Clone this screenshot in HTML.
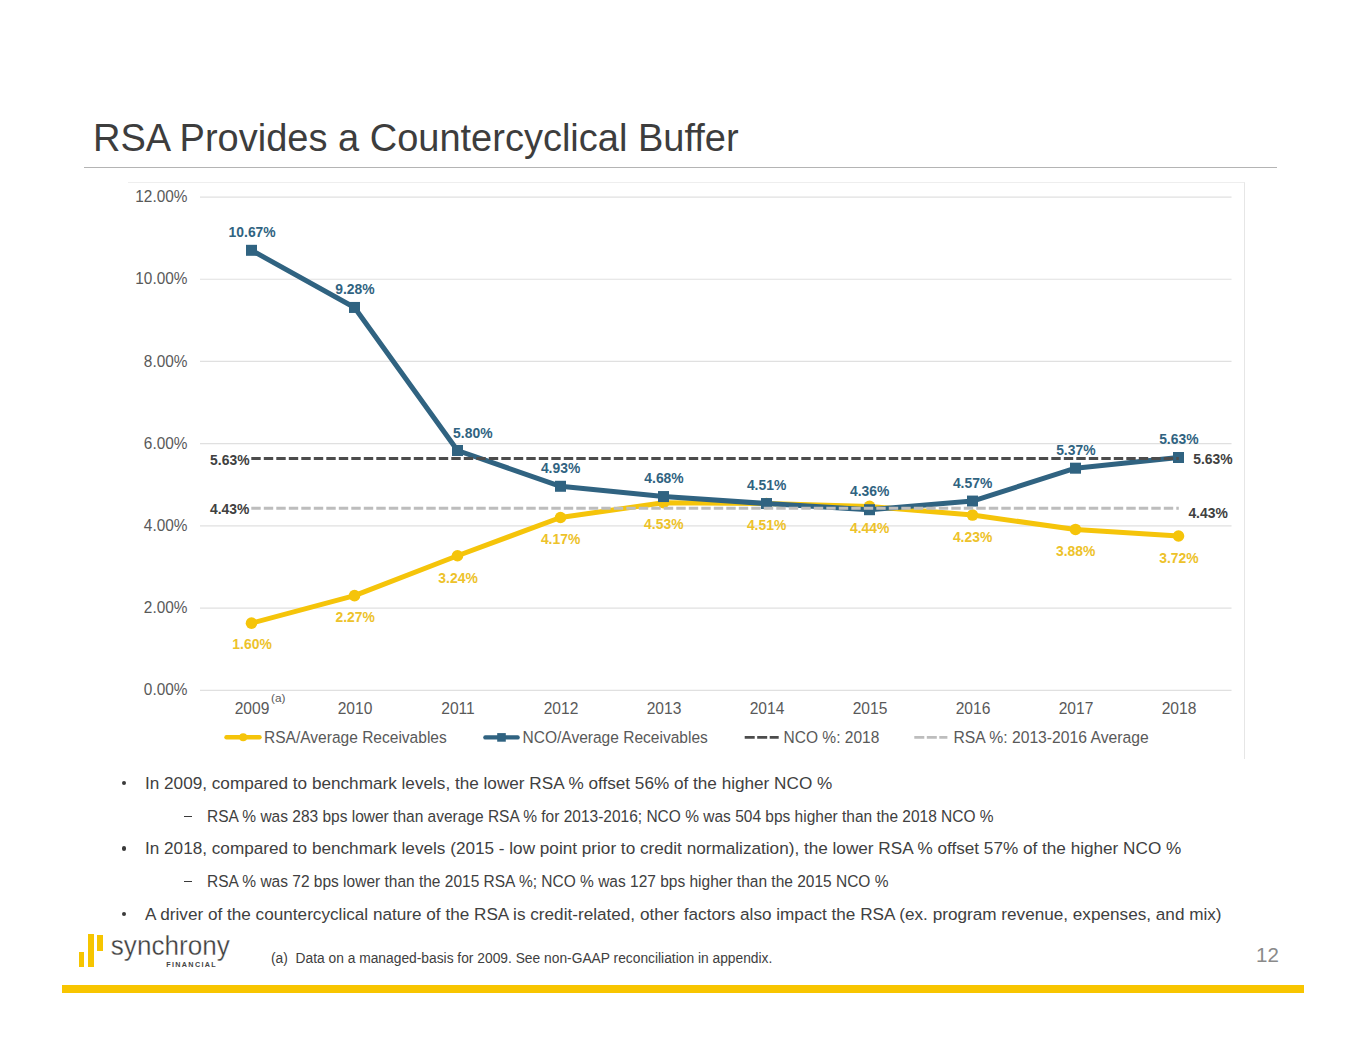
<!DOCTYPE html>
<html><head><meta charset="utf-8">
<style>
html,body{margin:0;padding:0;background:#fff;}
body{width:1365px;height:1055px;position:relative;overflow:hidden;font-family:"Liberation Sans",sans-serif;}
.t{position:absolute;white-space:nowrap;line-height:1;}
.b{font-size:17.17px;color:#404040;}
.s{font-size:15.5px;color:#404040;transform:scaleY(1.09);transform-origin:0 13.12px;}
svg{position:absolute;left:0;top:0;}
.dot{position:absolute;width:4.2px;height:4.2px;border-radius:50%;background:#3a3a3a;}
.dash{position:absolute;width:7.9px;height:1.6px;background:#3a3a3a;}
</style></head><body>
<div class="t" style="left:93px;top:118.7px;font-size:38px;color:#3d3d3d;">RSA Provides a Countercyclical Buffer</div>
<div style="position:absolute;left:84px;top:167px;width:1193px;height:1.3px;background:#b4b4b4;"></div>
<div style="position:absolute;left:128px;top:182px;width:1116px;height:576px;border-top:1px solid #eeeeee;border-right:1px solid #e6e6e6;"></div>
<svg width="1365" height="1055" viewBox="0 0 1365 1055" font-family="Liberation Sans, sans-serif">
<line x1="200" y1="690.35" x2="1231.5" y2="690.35" stroke="#e0e0e0" stroke-width="1.2"/>
<text x="187.5" y="694.85" transform="translate(0 689.55) scale(1 1.12) translate(0 -689.55)" text-anchor="end" font-size="15.4" fill="#595959">0.00%</text>
<line x1="200" y1="608.13" x2="1231.5" y2="608.13" stroke="#e0e0e0" stroke-width="1.2"/>
<text x="187.5" y="612.63" transform="translate(0 607.33) scale(1 1.12) translate(0 -607.33)" text-anchor="end" font-size="15.4" fill="#595959">2.00%</text>
<line x1="200" y1="525.91" x2="1231.5" y2="525.91" stroke="#e0e0e0" stroke-width="1.2"/>
<text x="187.5" y="530.41" transform="translate(0 525.11) scale(1 1.12) translate(0 -525.11)" text-anchor="end" font-size="15.4" fill="#595959">4.00%</text>
<line x1="200" y1="443.69" x2="1231.5" y2="443.69" stroke="#e0e0e0" stroke-width="1.2"/>
<text x="187.5" y="448.19" transform="translate(0 442.89) scale(1 1.12) translate(0 -442.89)" text-anchor="end" font-size="15.4" fill="#595959">6.00%</text>
<line x1="200" y1="361.47" x2="1231.5" y2="361.47" stroke="#e0e0e0" stroke-width="1.2"/>
<text x="187.5" y="365.97" transform="translate(0 360.67) scale(1 1.12) translate(0 -360.67)" text-anchor="end" font-size="15.4" fill="#595959">8.00%</text>
<line x1="200" y1="279.25" x2="1231.5" y2="279.25" stroke="#e0e0e0" stroke-width="1.2"/>
<text x="187.5" y="283.75" transform="translate(0 278.45) scale(1 1.12) translate(0 -278.45)" text-anchor="end" font-size="15.4" fill="#595959">10.00%</text>
<line x1="200" y1="197.03" x2="1231.5" y2="197.03" stroke="#e0e0e0" stroke-width="1.2"/>
<text x="187.5" y="201.53" transform="translate(0 196.23) scale(1 1.12) translate(0 -196.23)" text-anchor="end" font-size="15.4" fill="#595959">12.00%</text>
<text x="252.0" y="713.6" text-anchor="middle" font-size="15.6" fill="#595959">2009</text>
<text x="355.0" y="713.6" text-anchor="middle" font-size="15.6" fill="#595959">2010</text>
<text x="458.0" y="713.6" text-anchor="middle" font-size="15.6" fill="#595959">2011</text>
<text x="561.0" y="713.6" text-anchor="middle" font-size="15.6" fill="#595959">2012</text>
<text x="664.0" y="713.6" text-anchor="middle" font-size="15.6" fill="#595959">2013</text>
<text x="767.0" y="713.6" text-anchor="middle" font-size="15.6" fill="#595959">2014</text>
<text x="870.0" y="713.6" text-anchor="middle" font-size="15.6" fill="#595959">2015</text>
<text x="973.0" y="713.6" text-anchor="middle" font-size="15.6" fill="#595959">2016</text>
<text x="1076.0" y="713.6" text-anchor="middle" font-size="15.6" fill="#595959">2017</text>
<text x="1179.0" y="713.6" text-anchor="middle" font-size="15.6" fill="#595959">2018</text>
<text x="271" y="701.8" font-size="11.8" fill="#595959">(a)</text>
<polyline points="251.50,623.17 354.50,595.63 457.50,555.75 560.50,517.52 663.50,502.72 766.50,503.54 869.50,506.42 972.50,515.05 1075.50,529.44 1178.50,536.02" fill="none" stroke="#f5c40a" stroke-width="5" stroke-linejoin="round"/>
<circle cx="251.50" cy="623.17" r="5.8" fill="#f5c40a"/>
<circle cx="354.50" cy="595.63" r="5.8" fill="#f5c40a"/>
<circle cx="457.50" cy="555.75" r="5.8" fill="#f5c40a"/>
<circle cx="560.50" cy="517.52" r="5.8" fill="#f5c40a"/>
<circle cx="663.50" cy="502.72" r="5.8" fill="#f5c40a"/>
<circle cx="766.50" cy="503.54" r="5.8" fill="#f5c40a"/>
<circle cx="869.50" cy="506.42" r="5.8" fill="#f5c40a"/>
<circle cx="972.50" cy="515.05" r="5.8" fill="#f5c40a"/>
<circle cx="1075.50" cy="529.44" r="5.8" fill="#f5c40a"/>
<circle cx="1178.50" cy="536.02" r="5.8" fill="#f5c40a"/>
<polyline points="251.50,250.31 354.50,307.45 457.50,450.51 560.50,486.28 663.50,496.56 766.50,503.54 869.50,509.71 972.50,501.08 1075.50,468.19 1178.50,457.50" fill="none" stroke="#306381" stroke-width="5" stroke-linejoin="round"/>
<rect x="246.00" y="244.81" width="11" height="11" fill="#306381"/>
<rect x="349.00" y="301.95" width="11" height="11" fill="#306381"/>
<rect x="452.00" y="445.01" width="11" height="11" fill="#306381"/>
<rect x="555.00" y="480.78" width="11" height="11" fill="#306381"/>
<rect x="658.00" y="491.06" width="11" height="11" fill="#306381"/>
<rect x="761.00" y="498.04" width="11" height="11" fill="#306381"/>
<rect x="864.00" y="504.21" width="11" height="11" fill="#306381"/>
<rect x="967.00" y="495.58" width="11" height="11" fill="#306381"/>
<rect x="1070.00" y="462.69" width="11" height="11" fill="#306381"/>
<rect x="1173.00" y="452.00" width="11" height="11" fill="#306381"/>
<line x1="251.3" y1="458.4" x2="1178.8" y2="458.4" stroke="#4c4c4c" stroke-width="3" stroke-dasharray="9.4 3.1"/>
<line x1="251.3" y1="508.3" x2="1178.8" y2="508.3" stroke="#bdbdbd" stroke-width="3.1" stroke-dasharray="9.4 3.1"/>
<text x="252.15" y="237.3" text-anchor="middle" font-size="13.9" font-weight="bold" fill="#306381">10.67%</text>
<text x="354.95" y="294.3" text-anchor="middle" font-size="13.9" font-weight="bold" fill="#306381">9.28%</text>
<text x="472.80" y="438.4" text-anchor="middle" font-size="13.9" font-weight="bold" fill="#306381">5.80%</text>
<text x="560.60" y="472.9" text-anchor="middle" font-size="13.9" font-weight="bold" fill="#306381">4.93%</text>
<text x="664.00" y="483.4" text-anchor="middle" font-size="13.9" font-weight="bold" fill="#306381">4.68%</text>
<text x="766.60" y="489.9" text-anchor="middle" font-size="13.9" font-weight="bold" fill="#306381">4.51%</text>
<text x="869.70" y="495.9" text-anchor="middle" font-size="13.9" font-weight="bold" fill="#306381">4.36%</text>
<text x="972.60" y="487.5" text-anchor="middle" font-size="13.9" font-weight="bold" fill="#306381">4.57%</text>
<text x="1075.85" y="454.8" text-anchor="middle" font-size="13.9" font-weight="bold" fill="#306381">5.37%</text>
<text x="1178.85" y="443.8" text-anchor="middle" font-size="13.9" font-weight="bold" fill="#306381">5.63%</text>
<text x="252.05" y="649" text-anchor="middle" font-size="13.9" font-weight="bold" fill="#edc22a">1.60%</text>
<text x="355.20" y="621.9" text-anchor="middle" font-size="13.9" font-weight="bold" fill="#edc22a">2.27%</text>
<text x="458.05" y="582.9" text-anchor="middle" font-size="13.9" font-weight="bold" fill="#edc22a">3.24%</text>
<text x="560.60" y="544" text-anchor="middle" font-size="13.9" font-weight="bold" fill="#edc22a">4.17%</text>
<text x="663.80" y="529.1" text-anchor="middle" font-size="13.9" font-weight="bold" fill="#edc22a">4.53%</text>
<text x="766.60" y="529.8" text-anchor="middle" font-size="13.9" font-weight="bold" fill="#edc22a">4.51%</text>
<text x="869.70" y="532.5" text-anchor="middle" font-size="13.9" font-weight="bold" fill="#edc22a">4.44%</text>
<text x="972.60" y="541.6" text-anchor="middle" font-size="13.9" font-weight="bold" fill="#edc22a">4.23%</text>
<text x="1075.65" y="556.3" text-anchor="middle" font-size="13.9" font-weight="bold" fill="#edc22a">3.88%</text>
<text x="1178.95" y="562.5" text-anchor="middle" font-size="13.9" font-weight="bold" fill="#edc22a">3.72%</text>
<text x="229.80" y="465" text-anchor="middle" font-size="13.9" font-weight="bold" fill="#404040">5.63%</text>
<text x="229.65" y="513.5" text-anchor="middle" font-size="13.9" font-weight="bold" fill="#404040">4.43%</text>
<text x="1212.90" y="463.6" text-anchor="middle" font-size="13.9" font-weight="bold" fill="#404040">5.63%</text>
<text x="1208.10" y="517.8" text-anchor="middle" font-size="13.9" font-weight="bold" fill="#404040">4.43%</text>
<line x1="226.5" y1="737.2" x2="259.5" y2="737.2" stroke="#f5c40a" stroke-width="4.4" stroke-linecap="round"/><circle cx="243.2" cy="737.2" r="4" fill="#f5c40a"/>
<text x="264" y="742.8" transform="translate(0 742.8) scale(1 1.1) translate(0 -742.8)" font-size="15.55" fill="#595959">RSA/Average Receivables</text>
<line x1="485.4" y1="737.4" x2="517.6" y2="737.4" stroke="#306381" stroke-width="4.4" stroke-linecap="round"/><rect x="497.2" y="733.1" width="8.6" height="8.6" fill="#306381"/>
<text x="522.5" y="742.8" transform="translate(0 742.8) scale(1 1.1) translate(0 -742.8)" font-size="15.55" fill="#595959">NCO/Average Receivables</text>
<line x1="744.7" y1="737.4" x2="778.7" y2="737.4" stroke="#4c4c4c" stroke-width="2.9" stroke-dasharray="10 2.5"/>
<text x="783.5" y="742.8" transform="translate(0 742.8) scale(1 1.1) translate(0 -742.8)" font-size="15.55" fill="#595959">NCO %: 2018</text>
<line x1="914.3" y1="737.4" x2="947.4" y2="737.4" stroke="#bdbdbd" stroke-width="2.9" stroke-dasharray="10 2.5"/>
<text x="953.5" y="742.8" transform="translate(0 742.8) scale(1 1.1) translate(0 -742.8)" font-size="15.7" fill="#595959">RSA %: 2013-2016 Average</text>
</svg>
<div class="dot" style="left:121.9px;top:780.9px;"></div>
<div class="t b" style="left:145px;top:774.6px;">In 2009, compared to benchmark levels, the lower RSA % offset 56% of the higher NCO %</div>
<div class="dash" style="left:184px;top:815.6px;"></div>
<div class="t s" style="left:207px;top:808.6px;">RSA % was 283 bps lower than average RSA % for 2013-2016; NCO % was 504 bps higher than the 2018 NCO %</div>
<div class="dot" style="left:121.9px;top:846.4px;"></div>
<div class="t b" style="left:145px;top:840.3px;">In 2018, compared to benchmark levels (2015 - low point prior to credit normalization), the lower RSA % offset 57% of the higher NCO %</div>
<div class="dash" style="left:184px;top:880.6px;"></div>
<div class="t s" style="left:207px;top:873.9px;">RSA % was 72 bps lower than the 2015 RSA %; NCO % was 127 bps higher than the 2015 NCO %</div>
<div class="dot" style="left:121.9px;top:912.3px;"></div>
<div class="t b" style="left:145px;top:905.6px;">A driver of the countercyclical nature of the RSA is credit-related, other factors also impact the RSA (ex. program revenue, expenses, and mix)</div>
<div style="position:absolute;left:79.3px;top:952.2px;width:5.2px;height:15.2px;background:#f6c500;"></div>
<div style="position:absolute;left:88px;top:934.3px;width:5.9px;height:33.1px;background:#f6c500;"></div>
<div style="position:absolute;left:97.2px;top:934.7px;width:5.9px;height:16px;background:#f6c500;"></div>
<svg width="1365" height="1055" viewBox="0 0 1365 1055" font-family="Liberation Sans, sans-serif">
<text x="110.8" y="955.2" transform="translate(0 955.2) scale(1 1.05) translate(0 -955.2)" font-size="25.5" fill="#3f3f3f" stroke="#fff" stroke-width="0.3" textLength="119" lengthAdjust="spacingAndGlyphs">synchrony</text>
<text x="166.2" y="967.2" font-size="7.2" font-weight="bold" fill="#444" textLength="49.5" lengthAdjust="spacing">FINANCIAL</text>
</svg>
<div class="t" style="left:271px;top:951.5px;font-size:13.8px;color:#404040;">(a)&nbsp;&nbsp;Data on a managed-basis for 2009. See non-GAAP reconciliation in appendix.</div>
<div class="t" style="left:1256px;top:944.5px;font-size:20.5px;color:#8a8a8a;">12</div>
<div style="position:absolute;left:62px;top:985px;width:1241.5px;height:8px;background:#f8c500;"></div>
</body></html>
